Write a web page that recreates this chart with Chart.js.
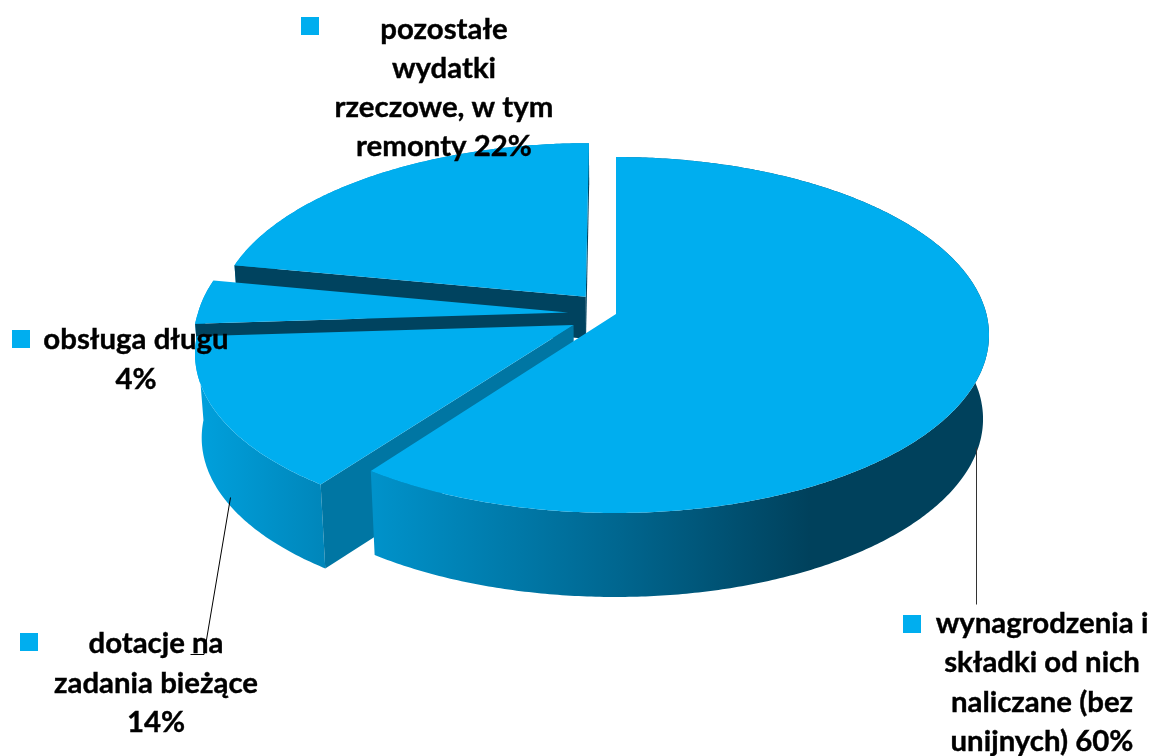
<!DOCTYPE html>
<html><head><meta charset="utf-8">
<style>html,body{margin:0;padding:0;background:#fff}canvas{display:block}</style>
<script src="https://cdn.jsdelivr.net/npm/chart.js@4"></script>
</head><body>
<canvas id="c" width="1154" height="756"></canvas>
<script>
const categories = ["wynagrodzenia i składki od nich naliczane (bez unijnych)","dotacje na zadania bieżące","obsługa długu","pozostałe wydatki rzeczowe, w tym remonty"];
const shares = [60,14,4,22];
const labelLines = [
  ["wynagrodzenia i","składki od nich","naliczane (bez","unijnych) 60%"],
  ["dotacje na","zadania bieżące","14%"],
  ["obsługa długu","4%"],
  ["pozostałe","wydatki","rzeczowe, w tym","remonty 22%"]
];
const BLUE = '#00aeef', DARK = '#00435f', MID = '#0076a3';
const view = {cx:616, cy:314, R:370.4, B:175.5, k:0.118, D:84, shrink:0.016, warp:9.5};
const labelBoxes = [
  {cxText:1042, base:633, step:39.3, sq:[903,615]},
  {cxText:156, base:653, step:39.5, sq:[20,633]},
  {cxText:136, base:349, step:40, sq:[12,330]},
  {cxText:444, base:39, step:39, sq:[301,17]}
];
const leaders = [
  {pts:[[976,447],[976,604]], color:'#333'},
  {pts:[[230,497],[203.5,654],[190,654]], color:'#000'}
];
const wallStops = [
  [[375,'#0092ca'],[620,'#00668f'],[810,'#00415c']],
  [[200,'#00a0dc'],[325,'#0086ba']],
  [[195,'#00a0dc'],[240,'#009ad6']],
  [[236,'#00a0dc'],[590,'#0086ba']]
];
const cutColors = [DARK, MID, DARK, DARK];
const sideDepth = [1, 1, 0.3, 0.5];

function project(fx, fz, h){
  const s = 1/(1+view.k*fz);
  const w = view.warp*Math.max(0,-fx)*Math.max(0,-fz);
  return [view.cx + fx*view.R*(1-view.shrink*h)*s - w, view.cy - fz*view.B*s + view.D*h];
}
const pie3d = {
  id:'pie3d',
  beforeDatasetsDraw(chart){
    const ctx = chart.ctx, arcs = chart.getDatasetMeta(0).data;
    for(let i=arcs.length-1;i>=0;i--){
      const e = arcs[i], d = sideDepth[i];
      const {startAngle:a0,endAngle:a1,outerRadius:r} = e.getProps(['startAngle','endAngle','outerRadius']);
      const off = e.options.offset||0, mid=(a0+a1)/2;
      const ox = Math.cos(mid)*off/r, oz = -Math.sin(mid)*off/r;
      const rim = (a,h)=>project(ox+Math.cos(a),oz-Math.sin(a),h);
      const tip = h=>project(ox,oz,h);
      const poly = (pts,fill)=>{ctx.beginPath();pts.forEach((p,j)=>j?ctx.lineTo(p[0],p[1]):ctx.moveTo(p[0],p[1]));ctx.closePath();ctx.fillStyle=fill;ctx.fill();};
      const n=Math.ceil((a1-a0)/0.01), top=[], bot=[];
      for(let j=0;j<=n;j++){const a=a0+(a1-a0)*j/n;top.push(rim(a,0));bot.push(rim(a,d));}
      const st=wallStops[i], g=ctx.createLinearGradient(st[0][0],0,st[st.length-1][0],0);
      st.forEach(s=>g.addColorStop((s[0]-st[0][0])/(st[st.length-1][0]-st[0][0]),s[1]));
      poly(top.concat(bot.slice().reverse()),g);
      if(i>0) poly([tip(0),rim(a0,0),rim(a0,d),tip(d)],cutColors[i]);
      if(i===3) poly([tip(0),rim(a1,0),rim(a1,d),tip(d)],cutColors[i]);
      poly([tip(0)].concat(top),e.options.backgroundColor);
    }
    return false;
  },
  afterDraw(chart){
    const ctx = chart.ctx;
    ctx.save();
    ctx.lineWidth=1;
    leaders.forEach(l=>{ctx.strokeStyle=l.color;ctx.beginPath();l.pts.forEach((p,j)=>j?ctx.lineTo(p[0]+.5,p[1]+.5):ctx.moveTo(p[0]+.5,p[1]+.5));ctx.stroke();});
    ctx.font='700 29.4px Lato';ctx.textAlign='center';ctx.textBaseline='alphabetic';ctx.lineWidth=0.4;ctx.strokeStyle='#000';
    labelLines.forEach((lines,i)=>{
      const b=labelBoxes[i];
      ctx.fillStyle=BLUE;ctx.fillRect(b.sq[0],b.sq[1],18,18);
      ctx.fillStyle='#000';
      lines.forEach((t,j)=>{ctx.fillText(t,b.cxText,b.base+j*b.step);ctx.strokeText(t,b.cxText,b.base+j*b.step);});
    });
    ctx.restore();
  }
};
new Chart(document.getElementById('c'),{
  type:'pie',
  data:{labels:categories,datasets:[{data:shares,backgroundColor:BLUE,borderWidth:0,offset:[0,46,46,46]}]},
  options:{responsive:false,animation:false,layout:{padding:0},plugins:{legend:{display:false},tooltip:{enabled:false},title:{display:false}}},
  plugins:[pie3d]
});
</script>
</body></html>
